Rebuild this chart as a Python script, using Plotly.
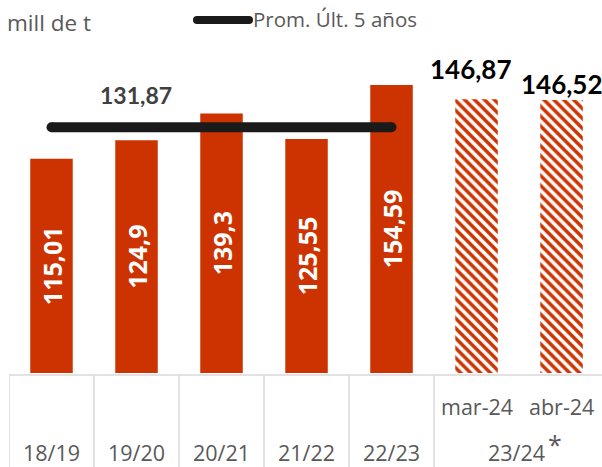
import plotly.graph_objects as go

# ---- data ----
categories = ["18/19", "19/20", "20/21", "21/22", "22/23", "mar-24", "abr-24"]
values = [115.01, 124.9, 139.3, 125.55, 154.59, 146.87, 146.52]
n_solid = 5
avg_label = "Prom. Últ. 5 años"
avg_value = 131.87
group_label = "23/24"
unit_label = "mill de t"

RED = "#cc3300"
GRAY_TXT = "#595959"
GRID = "#d9d9d9"

W, H = 602, 467
ML, MR, MT, MB = 9, 0, 40, 94
PW, PH = W - ML - MR, H - MT - MB


def fmt(v):
    return f"{v:g}".replace(".", ",")


def px_x(px):
    return (px - ML) / PW


def px_y(py):
    return (H - MB - py) / PH


fig = go.Figure()

# solid bars
fig.add_trace(go.Bar(
    x=categories[:n_solid], y=values[:n_solid], width=0.5,
    marker=dict(color=RED, line=dict(width=0)),
    text=[fmt(v) for v in values[:n_solid]],
    textposition="inside", insidetextanchor="middle", textangle=-90,
    textfont=dict(family="Open Sans", size=25, color="white", weight="bold"),
    hoverinfo="skip", showlegend=False,
))

# hatched bars
fig.add_trace(go.Bar(
    x=categories[n_solid:], y=values[n_solid:], width=0.5,
    marker=dict(color="white", line=dict(width=0),
                pattern=dict(shape="\\", fgcolor=RED, bgcolor="white", fgopacity=1,
                             size=7, solidity=0.5, fillmode="replace")),
    hoverinfo="skip", showlegend=False,
))

# average line
fig.add_trace(go.Scatter(
    x=[categories[0], categories[n_solid - 1]], y=[avg_value, avg_value],
    mode="lines+markers",
    line=dict(color="#1a1a1a", width=10),
    marker=dict(color="#1a1a1a", size=10),
    hoverinfo="skip", showlegend=False,
))

annotations = []
# avg label
annotations.append(dict(x=categories[1], y=avg_value, xref="x", yref="y",
                        text=fmt(avg_value), showarrow=False, yanchor="bottom",
                        yshift=16, xshift=-1,
                        font=dict(family="Lato", size=23, color="#404040", weight="bold")))
# hatched bar labels
for cat, v, ys, xs in zip(categories[n_solid:], values[n_solid:], [12, -2], [-6, 0]):
    annotations.append(dict(x=cat, y=v, xref="x", yref="y", text=fmt(v),
                            showarrow=False, yanchor="bottom", yshift=ys, xshift=xs,
                            font=dict(family="Lato", size=26, color="black", weight="bold")))
# category labels
for cat in categories[:n_solid]:
    annotations.append(dict(x=cat, y=px_y(452), xref="x", yref="paper", text=cat,
                            showarrow=False, yanchor="middle",
                            font=dict(family="Open Sans", size=21.5, color=GRAY_TXT)))
for cat in categories[n_solid:]:
    annotations.append(dict(x=cat, y=px_y(406), xref="x", yref="paper", text=cat,
                            showarrow=False, yanchor="middle",
                            font=dict(family="Open Sans", size=21.5, color=GRAY_TXT)))
annotations.append(dict(x=n_solid + 0.5, y=px_y(452), xref="x", yref="paper",
                        text=group_label, showarrow=False, yanchor="middle", xshift=-3,
                        font=dict(family="Open Sans", size=21.5, color=GRAY_TXT)))
annotations.append(dict(x=n_solid + 0.5, y=px_y(444), xref="x", yref="paper",
                        text="*", showarrow=False, yanchor="middle", xshift=36,
                        font=dict(family="Open Sans", size=25, color=GRAY_TXT)))
# unit label
annotations.append(dict(x=px_x(5), y=px_y(23), xref="paper", yref="paper",
                        text=unit_label, showarrow=False, xanchor="left", yanchor="middle",
                        font=dict(family="Open Sans", size=22.5, color=GRAY_TXT)))
# legend text
annotations.append(dict(x=px_x(251), y=px_y(19), xref="paper", yref="paper",
                        text=avg_label, showarrow=False, xanchor="left", yanchor="middle",
                        font=dict(family="Open Sans", size=20.5, color=GRAY_TXT)))

shapes = []
# legend line with rounded ends
shapes.append(dict(type="line", xref="paper", yref="paper",
                   x0=px_x(197), x1=px_x(249), y0=px_y(20), y1=px_y(20),
                   line=dict(color="#1a1a1a", width=8)))
for cx in (197, 249):
    shapes.append(dict(type="circle", xref="paper", yref="paper",
                       x0=px_x(cx - 4), x1=px_x(cx + 4), y0=px_y(24), y1=px_y(16),
                       fillcolor="#1a1a1a", line=dict(width=0)))
# table lines
shapes.append(dict(type="line", xref="paper", yref="paper",
                   x0=0, x1=1, y0=px_y(375), y1=px_y(375),
                   line=dict(color=GRID, width=1.5)))
for i in range(n_solid + 1):
    shapes.append(dict(type="line", xref="x", yref="paper",
                       x0=i - 0.5, x1=i - 0.5, y0=px_y(375), y1=px_y(470),
                       line=dict(color=GRID, width=1.5)))

fig.update_layout(
    width=W, height=H,
    margin=dict(l=ML, r=MR, t=MT, b=MB),
    plot_bgcolor="white", paper_bgcolor="white",
    barmode="overlay",
    uniformtext=dict(minsize=25, mode="show"),
    xaxis=dict(type="category", categoryorder="array", categoryarray=categories,
               range=[-0.5, 6.476], showticklabels=False, showgrid=False,
               zeroline=False, showline=False, ticks=""),
    yaxis=dict(range=[0, PH / 1.8635], visible=False, showgrid=False, zeroline=False),
    annotations=annotations,
    shapes=shapes,
    showlegend=False,
)

fig.write_html("out.html", config={"displayModeBar": False},
               post_script="document.body.style.margin='0';document.body.style.overflow='hidden';")
